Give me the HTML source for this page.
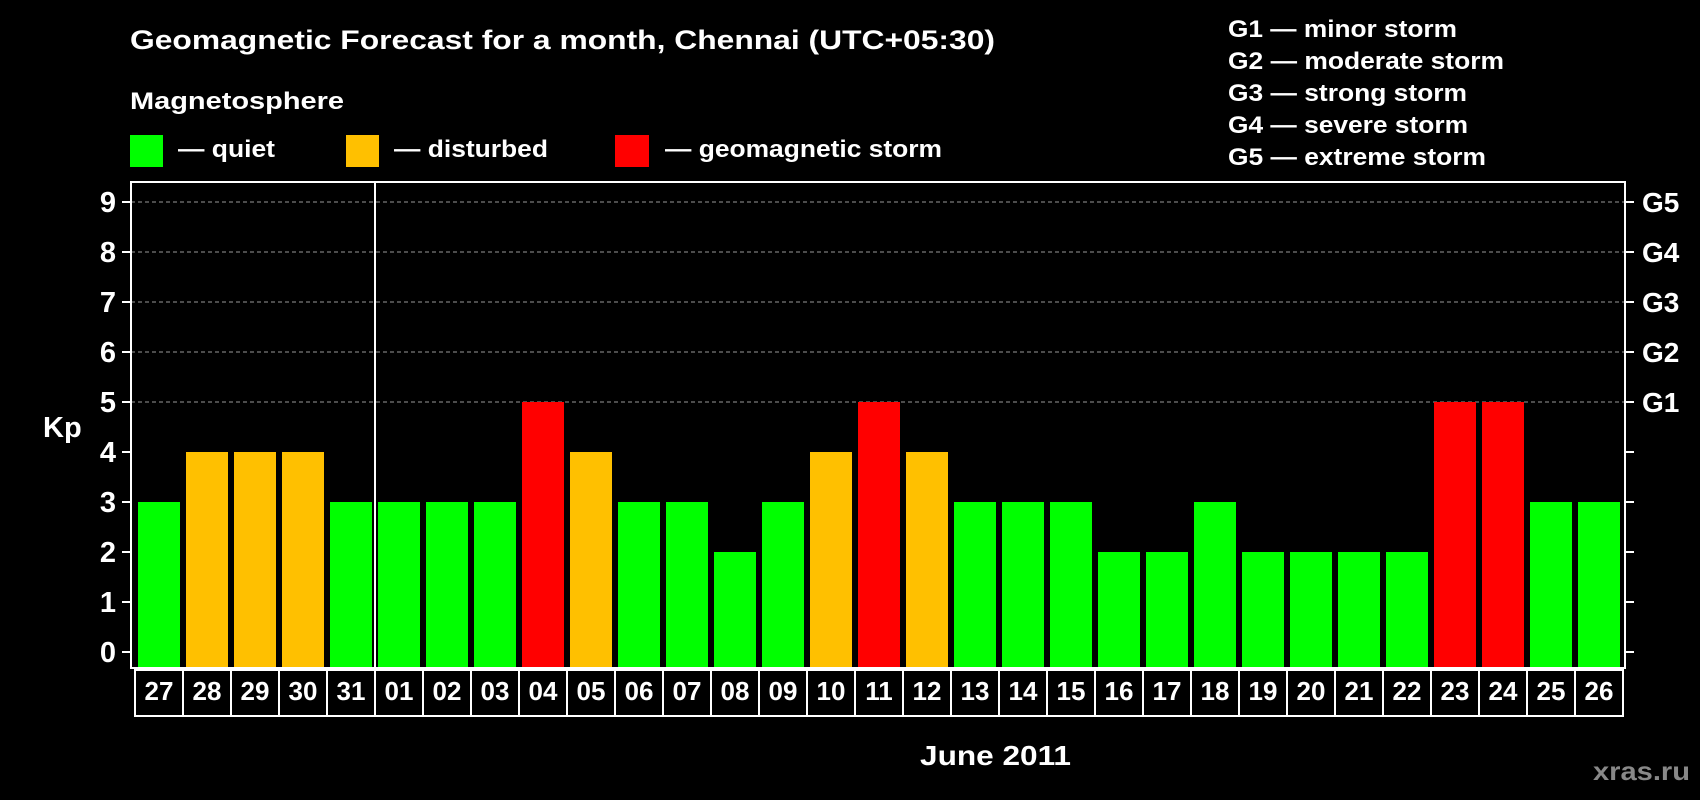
<!DOCTYPE html>
<html><head><meta charset="utf-8"><style>
html,body{margin:0;padding:0;background:#000;}
svg{display:block;font-family:"Liberation Sans",Arial,sans-serif;font-weight:bold;}
</style></head><body>
<svg id="chart" width="1700" height="800" viewBox="0 0 1700 800">
<text x="130" y="49" fill="#fff" font-size="27" textLength="865" lengthAdjust="spacingAndGlyphs">Geomagnetic Forecast for a month, Chennai (UTC+05:30)</text>
<text x="130" y="109" fill="#fff" font-size="24" textLength="214" lengthAdjust="spacingAndGlyphs">Magnetosphere</text>
<g><rect x="130" y="135" width="33" height="32" fill="#00ff00"/><text x="178" y="157" fill="#fff" font-size="24" textLength="97" lengthAdjust="spacingAndGlyphs">— quiet</text></g>
<g><rect x="346" y="135" width="33" height="32" fill="#ffc000"/><text x="394" y="157" fill="#fff" font-size="24" textLength="154" lengthAdjust="spacingAndGlyphs">— disturbed</text></g>
<g><rect x="615" y="135" width="34" height="32" fill="#ff0000"/><text x="665" y="157" fill="#fff" font-size="24" textLength="277" lengthAdjust="spacingAndGlyphs">— geomagnetic storm</text></g>
<g fill="#fff" font-size="24">
<text x="1228" y="37" textLength="229" lengthAdjust="spacingAndGlyphs">G1 — minor storm</text>
<text x="1228" y="69" textLength="276" lengthAdjust="spacingAndGlyphs">G2 — moderate storm</text>
<text x="1228" y="101" textLength="239" lengthAdjust="spacingAndGlyphs">G3 — strong storm</text>
<text x="1228" y="133" textLength="240" lengthAdjust="spacingAndGlyphs">G4 — severe storm</text>
<text x="1228" y="165" textLength="258" lengthAdjust="spacingAndGlyphs">G5 — extreme storm</text>
</g>
<g id="plot"></g>
<text x="43" y="437" fill="#fff" font-size="29">Kp</text>
<text x="920" y="765" fill="#fff" font-size="28" textLength="151" lengthAdjust="spacingAndGlyphs">June 2011</text>
<text x="1593" y="780" fill="#888" font-size="26" textLength="97" lengthAdjust="spacingAndGlyphs">xras.ru</text>
</svg>
<script>
const days = ["27","28","29","30","31","01","02","03","04","05","06","07","08","09","10","11","12","13","14","15","16","17","18","19","20","21","22","23","24","25","26"];
const kpValues = [3,4,4,4,3,3,3,3,5,4,3,3,2,3,4,5,4,3,3,3,2,2,3,2,2,2,2,5,5,3,3];
const yTicks = [0,1,2,3,4,5,6,7,8,9];
const gLabels = ["G1","G2","G3","G4","G5"];
const NS="http://www.w3.org/2000/svg";
const plot=document.getElementById('plot');
const L=131,R=1625,T=182,B=668;
const yS=v=>652-v*50;
const xS=i=>138+i*48;
function mk(t,a){const e=document.createElementNS(NS,t);for(const k in a)e.setAttribute(k,a[k]);plot.appendChild(e);return e;}
// grid
yTicks.forEach(v=>{
  if(v>=5){const g=mk('line',{x1:L,x2:R,y1:yS(v),y2:yS(v),stroke:'#999','stroke-width':1,'stroke-dasharray':'4,3'});
  
  }
  const t1=mk('line',{x1:122,x2:L,y1:yS(v),y2:yS(v),stroke:'#fff','stroke-width':2});
  
  
  const t2=mk('line',{x1:R,x2:1634,y1:yS(v),y2:yS(v),stroke:'#fff','stroke-width':2});
  
  
  const lb=mk('text',{x:116,y:yS(v)+10,fill:'#fff','font-size':29,'text-anchor':'end'});
  lb.textContent=v;
  
  
});
gLabels.forEach((g,i)=>{
  const lb=mk('text',{x:1642,y:yS(5+i)+10,fill:'#fff','font-size':28});
  lb.textContent=g;
  
  
});
kpValues.forEach((v,i)=>{
  const c=v>=5?'#ff0000':(v>=4?'#ffc000':'#00ff00');
  const b=mk('rect',{x:xS(i),y:yS(v),width:42,height:B-yS(v),fill:c});
  
  
  const cell=mk('rect',{x:xS(i)-3,y:670,width:48,height:46,fill:'none',stroke:'#fff','stroke-width':2});
  
  
  const t=mk('text',{x:xS(i)+21,y:700,fill:'#fff','font-size':26,'text-anchor':'middle'});
  t.textContent=days[i];
  
  
});
const fr=mk('rect',{x:L,y:T,width:R-L,height:B-T,fill:'none',stroke:'#fff','stroke-width':2});


const sep=days.indexOf("01");
const ml=mk('line',{x1:xS(sep)-3,x2:xS(sep)-3,y1:T,y2:B,stroke:'#fff','stroke-width':2});


</script>
</body></html>
